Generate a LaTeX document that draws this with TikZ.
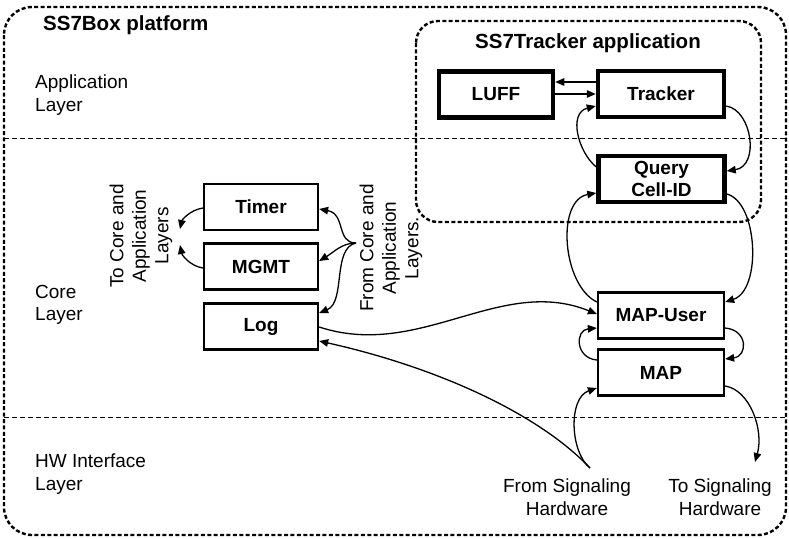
\documentclass[tikz,border=0pt]{standalone}
\usepackage{fontspec}
\setmainfont{Liberation Sans}
\usetikzlibrary{arrows.meta}
\begin{document}
\begin{tikzpicture}[x=1pt,y=-1pt,
  txt/.style={font=\fontsize{19}{22.5}\selectfont, inner sep=0pt, align=center},
  ttl/.style={font=\fontsize{20.5}{24}\selectfont\bfseries, inner sep=0pt},
  appbox/.style={draw, line width=4.5pt, minimum width=126pt, minimum height=46pt, inner sep=0pt,
                 font=\fontsize{19}{22}\selectfont\bfseries, align=center},
  corebox/.style={draw, line width=2.3pt, minimum height=46pt, inner sep=0pt,
                  font=\fontsize{19}{22}\selectfont\bfseries, align=center},
  conn/.style={line width=1.3pt, -{Triangle[length=9pt,width=7.5pt]}},
  frame/.style={line width=2.4pt, dash pattern=on 4pt off 2.4pt, rounded corners=28pt},
  divider/.style={line width=1pt, dash pattern=on 5pt off 3pt}]
\useasboundingbox (0,0) rectangle (789,538);

% platform frame and layer dividers
\draw[frame] (4,7) rectangle (786,535);
\draw[divider] (4,138) -- (786,138);
\draw[divider] (4,417) -- (786,417);
\node[ttl, anchor=west] (platform) at (43,25) {SS7Box platform};
\node[txt, anchor=west, align=left] (applayer) at (35,95) {Application\\Layer};
\node[txt, anchor=west, align=left] (corelayer) at (35,305) {Core\\Layer};
\node[txt, anchor=west, align=left] (hwlayer) at (35,474) {HW Interface\\Layer};

% application frame
\draw[frame, rounded corners=22pt] (416,21) rectangle (761,222);
\node[ttl] (apptitle) at (588,43) {SS7Tracker application};

% application boxes
\node[appbox, minimum width=114pt] (luff) at (496,94.5) {LUFF};
\node[appbox] (tracker) at (661,94) {Tracker};
\node[appbox] (query) at (661.5,179) {Query\\Cell-ID};

% core boxes
\node[corebox, minimum width=114pt] (timer) at (261,207) {Timer};
\node[corebox, minimum width=114pt] (mgmt) at (261,266.5) {MGMT};
\node[corebox, minimum width=114pt] (log) at (261,326.5) {Log};
\node[corebox, minimum width=126pt] (mapuser) at (661,315.5) {MAP-User};
\node[corebox, minimum width=126pt] (map) at (661,372.5) {MAP};

% free ends
\coordinate (fromcore) at (356,243);
\coordinate (tocoreA) at (180,229);
\coordinate (tocoreB) at (180,245);
\coordinate (fromhw) at (590,468);
\coordinate (tohw) at (755,462);

\node[txt, rotate=90] (tocoretxt) at (141,236) {To Core and\\Application\\Layers};
\node[txt, rotate=90] (fromcoretxt) at (391,248) {From Core and\\Application\\Layers.};
\node[txt] (fromhwtxt) at (567,497) {From Signaling\\Hardware};
\node[txt] (tohwtxt) at (720,497) {To Signaling\\Hardware};

% LUFF <-> Tracker
\draw[conn] (tracker.west |- 0,82) -- (luff.east |- 0,82);
\draw[conn] (luff.east |- 0,94) -- (tracker.west |- 0,94);

% Tracker <-> Query
\draw[conn] (query.west |- 0,167) .. controls (578,152) and (568,113) .. (tracker.west |- 0,106);
\draw[conn] (tracker.east |- 0,106) .. controls (752,110) and (760,166) .. (query.east |- 0,171);

% Query <-> MAP-User
\draw[conn] (query.east |- 0,194) .. controls (758,202) and (762,290) .. (mapuser.east |- 0,302);
\draw[conn] (mapuser.west |- 0,302) .. controls (562,285) and (556,200) .. (query.west |- 0,193);

% MAP-User <-> MAP
\draw[conn] (map.west |- 0,360) .. controls (575,358) and (575,330) .. (mapuser.west |- 0,328);
\draw[conn] (mapuser.east |- 0,328) .. controls (748,330) and (748,356) .. (map.east |- 0,359);

% Timer, MGMT, Log inputs and outputs
\draw[conn] (fromcore) .. controls (336,243) and (346,214) .. (timer.east |- 0,209);
\draw[conn] (fromcore) .. controls (342,243) and (334,252) .. (mgmt.east |- 0,261);
\draw[conn] (fromcore) .. controls (332,248) and (346,302) .. (log.east |- 0,313);
\draw[conn] (timer.west |- 0,208) .. controls (190,210) and (182,220) .. (tocoreA);
\draw[conn] (mgmt.west |- 0,268) .. controls (190,266) and (182,255) .. (tocoreB);

% Log -> MAP-User
\draw[conn] (log.east |- 0,327) .. controls (420,360) and (500,275) .. (mapuser.west |- 0,314);

% signalling hardware
\draw[conn] (fromhw) .. controls (570,452) and (568,398) .. (map.west |- 0,388);
\draw[conn] (fromhw) .. controls (540,415) and (440,368) .. (log.east |- 0,341);
\draw[conn] (map.east |- 0,386) .. controls (750,390) and (764,430) .. (tohw);
\end{tikzpicture}
\end{document}
